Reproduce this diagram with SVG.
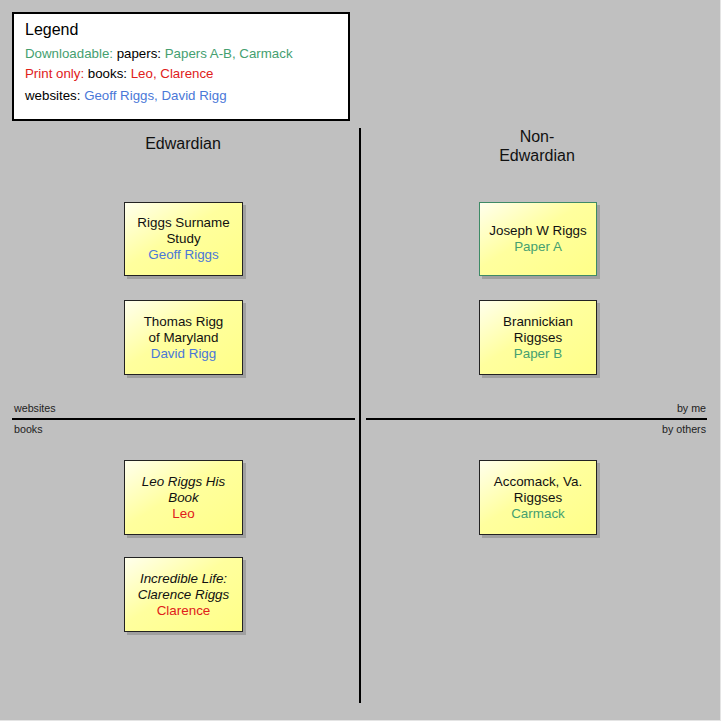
<svg xmlns="http://www.w3.org/2000/svg" width="721" height="721" viewBox="0 0 721 721">
<style>
text{font-family:"Liberation Sans",Arial,sans-serif;fill:#000}
.lg{font-size:13.3px}
.ax{font-size:10.7px;fill:#222}
.hd{font-size:16px;text-anchor:middle;fill:#111}
.nt{font-size:13.4px;text-anchor:middle;fill:#111}
.it{font-style:italic}
.g{fill:#45a070}
.r{fill:#e0201a}
.b{fill:#4a78d8}
.box{fill:url(#yg);stroke:#222;stroke-width:1}
.sh{fill:#8a8a8a;opacity:.6}
.ln{stroke:#000;stroke-width:2}
</style>
<defs>
<linearGradient id="yg" x1="0" y1="0" x2="1" y2="1">
<stop offset="0" stop-color="#ffffee"/>
<stop offset="0.45" stop-color="#ffff9e"/>
<stop offset="1" stop-color="#ffff88"/>
</linearGradient>
</defs>
<rect x="0" y="0" width="721" height="721" fill="#c0c0c0"/>
<rect x="720" y="0" width="1" height="721" fill="#e4e4e4"/>
<rect x="0" y="720" width="721" height="1" fill="#e4e4e4"/>

<g id="legend">
<rect x="13" y="13" width="336" height="107" fill="#fff" stroke="#000" stroke-width="2"/>
<text x="25" y="35" style="font-size:16px">Legend</text>
<text x="25" y="58" class="lg"><tspan class="g">Downloadable:</tspan> papers: <tspan class="g">Papers A-B, Carmack</tspan></text>
<text x="25" y="78" class="lg"><tspan class="r">Print only:</tspan> books: <tspan class="r">Leo, Clarence</tspan></text>
<text x="25" y="100" class="lg">websites: <tspan class="b">Geoff Riggs, David Rigg</tspan></text>
</g>

<g id="axes">
<line class="ln" x1="360" y1="128" x2="360" y2="703"/>
<line class="ln" x1="12" y1="419" x2="355" y2="419"/>
<line class="ln" x1="366" y1="419" x2="707" y2="419"/>
<text x="14" y="412" class="ax">websites</text>
<text x="14" y="433" class="ax">books</text>
<text x="706" y="412" class="ax" text-anchor="end">by me</text>
<text x="706" y="433" class="ax" text-anchor="end">by others</text>
<text x="183" y="149" class="hd">Edwardian</text>
<text x="537" y="142" class="hd">Non-</text>
<text x="537" y="161" class="hd">Edwardian</text>
</g>

<g id="connectors"></g>

<g id="n1">
<rect class="sh" x="127" y="205" width="119" height="74"/>
<rect class="box" x="124.5" y="202.5" width="118" height="73"/>
<text class="nt" x="183.5" y="227">Riggs Surname</text>
<text class="nt" x="183.5" y="243">Study</text>
<text class="nt b" x="183.5" y="259">Geoff Riggs</text>
</g>
<g id="n2">
<rect class="sh" x="127" y="303" width="119" height="75"/>
<rect class="box" x="124.5" y="300.5" width="118" height="74"/>
<text class="nt" x="183.5" y="326">Thomas Rigg</text>
<text class="nt" x="183.5" y="342">of Maryland</text>
<text class="nt b" x="183.5" y="358">David Rigg</text>
</g>
<g id="n3">
<rect class="sh" x="482" y="205" width="118" height="74"/>
<rect class="box" x="479.5" y="202.5" width="117" height="73" style="stroke:#3e8a66"/>
<text class="nt" x="538" y="235">Joseph W Riggs</text>
<text class="nt g" x="538" y="251">Paper A</text>
</g>
<g id="n4">
<rect class="sh" x="482" y="303" width="118" height="75"/>
<rect class="box" x="479.5" y="300.5" width="117" height="74"/>
<text class="nt" x="538" y="326">Brannickian</text>
<text class="nt" x="538" y="342">Riggses</text>
<text class="nt g" x="538" y="358">Paper B</text>
</g>
<g id="n5">
<rect class="sh" x="127" y="463" width="119" height="75"/>
<rect class="box" x="124.5" y="460.5" width="118" height="74"/>
<text class="nt it" x="183.5" y="486">Leo Riggs His</text>
<text class="nt it" x="183.5" y="502">Book</text>
<text class="nt r" x="183.5" y="518">Leo</text>
</g>
<g id="n6">
<rect class="sh" x="127" y="560" width="119" height="75"/>
<rect class="box" x="124.5" y="557.5" width="118" height="74"/>
<text class="nt it" x="183.5" y="583">Incredible Life:</text>
<text class="nt it" x="183.5" y="599">Clarence Riggs</text>
<text class="nt r" x="183.5" y="615">Clarence</text>
</g>
<g id="n7">
<rect class="sh" x="482" y="463" width="118" height="75"/>
<rect class="box" x="479.5" y="460.5" width="117" height="74"/>
<text class="nt" x="538" y="486">Accomack, Va.</text>
<text class="nt" x="538" y="502">Riggses</text>
<text class="nt g" x="538" y="518">Carmack</text>
</g>
</svg>
